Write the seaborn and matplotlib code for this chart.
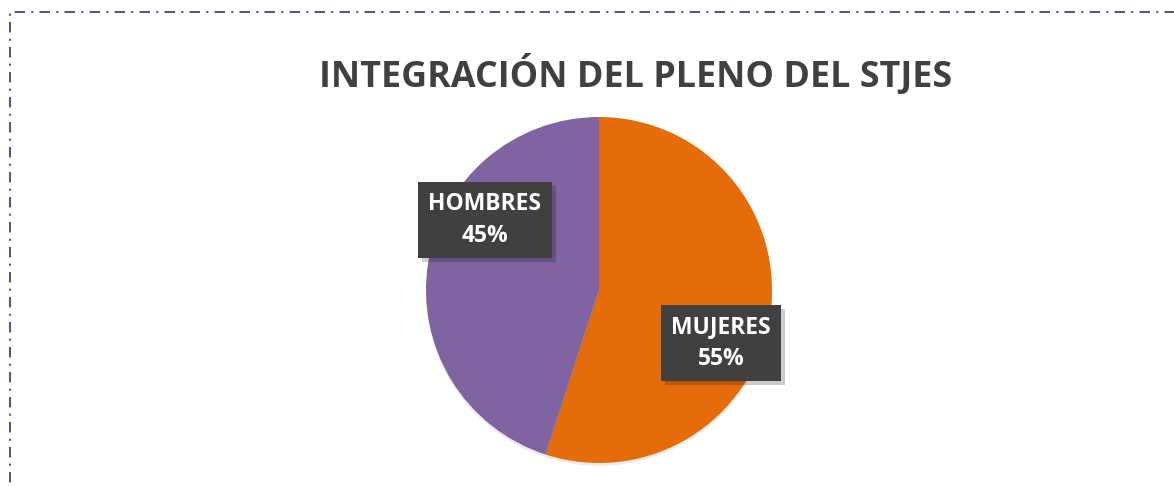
import matplotlib
matplotlib.use('Agg')
import matplotlib.pyplot as plt
import matplotlib.patheffects as pe
from matplotlib.patches import Rectangle
import seaborn as sns

# ============ Data ============
categories = ['MUJERES', 'HOMBRES']
shares = [55, 45]
colors = ['#E46C0A', '#8064A2']
title = 'INTEGRACIÓN DEL PLENO DEL STJES'

sns.set_theme(style='white')
plt.rcParams['font.family'] = ['Open Sans', 'DejaVu Sans']

W, H = 1174, 487
fig = plt.figure(figsize=(W / 100, H / 100), dpi=100)

# pie centred at (599, 290) px, radius 173 px
cx, cy, r = 599, 290, 173
ax = fig.add_axes([(cx - r) / W, (H - cy - r) / H, 2 * r / W, 2 * r / H])

wedges, _ = ax.pie(shares, colors=colors, startangle=90, counterclock=False,
                   radius=1, wedgeprops=dict(linewidth=0))
for w in wedges:
    w.set_path_effects([pe.SimplePatchShadow(offset=(0, -2), shadow_rgbFace='#000000', alpha=0.08),
                        pe.Normal()])
ax.set_xlim(-1, 1)
ax.set_ylim(-1, 1)
ax.axis('off')

# data labels (positions in pie radius units)
label_pos = {'MUJERES': (0.705, -0.306), 'HOMBRES': (-0.66, 0.405)}
for name, val in zip(categories, shares):
    x, y = label_pos[name]
    t = ax.text(x, y, f'{name}\n{val}%', ha='center', va='center', color='white',
                fontsize=16.5, fontweight='bold', linespacing=1.45,
                bbox=dict(boxstyle='square,pad=0.45', facecolor='#404040', linewidth=0))
    t.get_bbox_patch().set_path_effects([
        pe.SimplePatchShadow(offset=(3, -3), shadow_rgbFace='#000000', alpha=0.2),
        pe.Normal()])

fig.text(636 / W, 1 - 75 / H, title, ha='center', va='center',
         fontsize=25.8, fontweight='bold', color='#404040')

# dash-dot frame, running past the right and bottom edges
frame = Rectangle((10 / W, -0.1), 1.2, (1 - 12 / H) + 0.1, transform=fig.transFigure,
                  fill=False, edgecolor='#5E5280', linewidth=1.5,
                  linestyle=(0, (5, 3, 1, 3)), clip_on=False)
fig.patches.append(frame)

plt.savefig('out.png', dpi=100)
